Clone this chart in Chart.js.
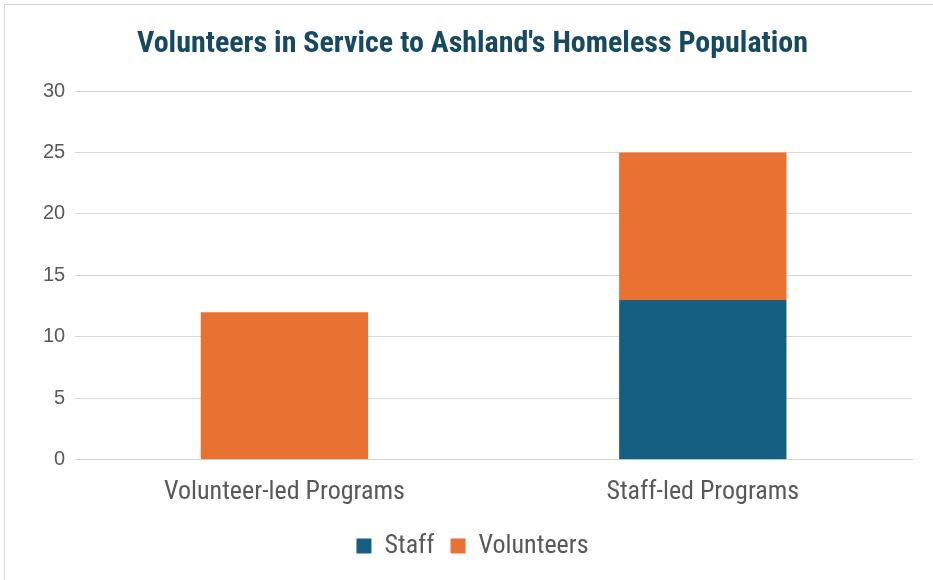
<!DOCTYPE html>
<html>
<head>
<meta charset="utf-8">
<script src="https://cdn.jsdelivr.net/npm/chart.js@4.4.1/dist/chart.umd.min.js"></script>
<style>
  html, body { margin: 0; padding: 0; background: #ffffff; overflow: hidden; }
  #marco {
    position: absolute; left: 4px; top: 4px; width: 960px; height: 600px;
    border: 1px solid #d9d9d9; box-sizing: border-box;
  }
  #lienzo { position: absolute; left: 0; top: 0; }
</style>
</head>
<body>
<div id="marco"></div>
<canvas id="lienzo" width="933" height="580"></canvas>
<script>
// Categorías y series
const categorias = ['Volunteer-led Programs', 'Staff-led Programs'];
const personal = [0, 13];       // Staff
const voluntarios = [12, 12];   // Volunteers
const ticksY = [0, 5, 10, 15, 20, 25, 30];

const fuenteNarrow = "'Roboto Condensed', 'Liberation Sans Narrow', sans-serif";

const ctx = document.getElementById('lienzo').getContext('2d');
const grafico = new Chart(ctx, {
    type: 'bar',
    data: {
        labels: categorias,
        datasets: [
            { label: 'Staff', data: personal, backgroundColor: '#156082', barPercentage: 0.8, categoryPercentage: 0.5 },
            { label: 'Volunteers', data: voluntarios, backgroundColor: '#E97132', barPercentage: 0.8, categoryPercentage: 0.5 }
        ]
    },
    options: {
        responsive: false,
        animation: false,
        layout: { padding: { left: 33, right: 21, top: 26, bottom: 11 } },
        plugins: {
            title: {
                display: true,
                text: "Volunteers in Service to Ashland's Homeless Population",
                color: '#17495f',
                font: { family: fuenteNarrow, size: 30, weight: 'bold' },
                padding: { top: 0, bottom: 29 }
            },
            legend: {
                position: 'bottom',
                labels: {
                    color: '#595959',
                    font: { family: fuenteNarrow, size: 26 },
                    boxWidth: 15, boxHeight: 15, padding: 16
                }
            },
            tooltip: { enabled: false }
        },
        scales: {
            x: {
                stacked: true,
                grid: { display: false },
                border: { color: '#d9d9d9', width: 1 },
                ticks: { color: '#595959', font: { family: fuenteNarrow, size: 26 }, padding: 9 }
            },
            y: {
                stacked: true,
                min: 0, max: 30,
                afterBuildTicks: (eje) => { eje.ticks = ticksY.map(v => ({ value: v })); },
                grid: { color: '#d9d9d9', drawTicks: false },
                border: { display: false },
                ticks: { color: '#595959', font: { family: "'Liberation Sans', Arial, sans-serif", size: 20 }, padding: 10 }
            }
        }
    }
});
</script>
</body>
</html>
